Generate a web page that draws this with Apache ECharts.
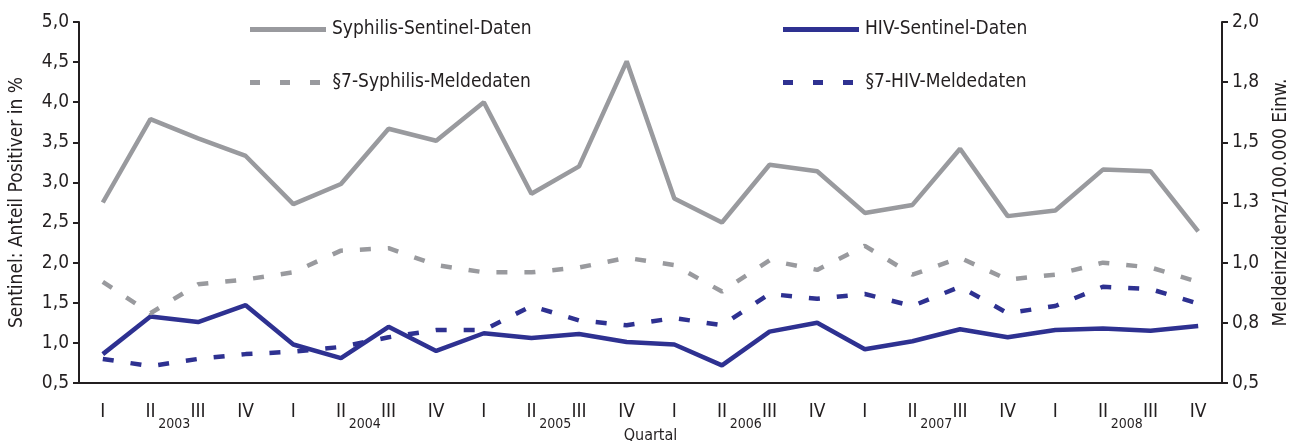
<!DOCTYPE html>
<html>
<head>
<meta charset="utf-8">
<script src="https://cdn.jsdelivr.net/npm/echarts@6/dist/echarts.min.js"></script>
<style>
html,body{margin:0;padding:0;background:#fff;}
#c{width:1298px;height:441px;}
</style>
</head>
<body>
<div id="c"></div>
<script>
var quarters = ['I','II','III','IV','I','II','III','IV','I','II','III','IV','I','II','III','IV','I','II','III','IV','I','II','III','IV'];
var years = ['2003','2004','2005','2006','2007','2008'];
// left axis (Sentinel: Anteil Positiver in %)
var syphilisSentinel = [2.75,3.79,3.55,3.33, 2.73,2.98,3.67,3.52, 4.00,2.86,3.20,4.51, 2.80,2.50,3.22,3.14, 2.62,2.72,3.42,2.58, 2.65,3.16,3.14,2.39];
var hivSentinel = [0.86,1.33,1.26,1.47, 0.98,0.81,1.20,0.90, 1.12,1.06,1.11,1.01, 0.98,0.72,1.14,1.25, 0.92,1.02,1.17,1.07, 1.16,1.18,1.15,1.21];
// right axis (Meldeinzidenz/100.000 Einw.)
var syphilisMelde = [0.92,0.79,0.91,0.93, 0.96,1.05,1.06,0.99, 0.96,0.96,0.98,1.02, 0.99,0.88,1.01,0.97, 1.07,0.95,1.02,0.93, 0.95,1.00,0.98,0.92];
var hivMelde = [0.60,0.57,0.60,0.62, 0.63,0.65,0.69,0.72, 0.72,0.82,0.76,0.74, 0.77,0.74,0.87,0.85, 0.87,0.82,0.90,0.79, 0.82,0.90,0.89,0.83];

var FONT = "'Liberation Sans Narrow','DejaVu Sans Condensed','Roboto',sans-serif";
var GRAY = '#999a9e', BLUE = '#2e3191', TXT = '#231f20';
function de(v){ return v.toFixed(1).replace('.', ','); }

var SOLID_ICON = 'path://M0,0H76V5H0Z';
var DASH_ICON = 'path://M0,0H10V5H0ZM30,0H40V5H30ZM60,0H70V5H60Z';

var chart = echarts.init(document.getElementById('c'));
function leg(name, left, top, dashed){
  return {data:[{name:name, icon: dashed ? DASH_ICON : SOLID_ICON}], left:left, top:top,
    itemWidth: dashed ? 71 : 76, itemHeight:5, itemGap:0,
    textStyle:{fontFamily:FONT, fontSize:19, color:TXT, padding:[0,0,0, dashed ? 7 : 1]}, selectedMode:false};
}
chart.setOption({
  animation:false,
  legend:[leg('Syphilis-Sentinel-Daten',245,15,false), leg('HIV-Sentinel-Daten',778,15,false),
          leg('§7-Syphilis-Meldedaten',245,68,true), leg('§7-HIV-Meldedaten',778,68,true)],
  grid:{left:79, right:76, top:22, bottom:58, containLabel:false, outerBoundsMode:'none'},
  xAxis:[{
    type:'category', data:quarters, boundaryGap:true,
    name:'Quartal', nameLocation:'middle', nameGap:45,
    nameTextStyle:{fontFamily:FONT, fontSize:16, color:TXT},
    axisLine:{lineStyle:{color:TXT, width:2}},
    axisTick:{interval:0, length:6, lineStyle:{color:TXT, width:2}},
    axisLabel:{interval:0, margin:20, fontFamily:FONT, fontSize:19, color:TXT}
  },{
    type:'category', data:years, boundaryGap:true, position:'bottom',
    axisLine:{show:false}, axisTick:{show:false},
    axisLabel:{interval:0, margin:34, fontFamily:FONT, fontSize:14, color:TXT}
  }],
  yAxis:[{
    type:'value', min:0.5, max:5, interval:0.5, position:'left',
    name:'Sentinel: Anteil Positiver in %', nameLocation:'middle', nameGap:52, nameRotate:90,
    nameTextStyle:{fontFamily:FONT, fontSize:19, color:TXT},
    splitLine:{show:false},
    axisLine:{show:true, lineStyle:{color:TXT, width:2}},
    axisTick:{show:true, length:6, lineStyle:{color:TXT, width:2}},
    axisLabel:{formatter:de, margin:10, fontFamily:FONT, fontSize:19, color:TXT}
  },{
    type:'value', min:0.5, max:2, interval:0.25, position:'right',
    name:'Meldeinzidenz/100.000 Einw.', nameLocation:'middle', nameGap:50, nameRotate:90,
    nameTextStyle:{fontFamily:FONT, fontSize:19, color:TXT},
    splitLine:{show:false},
    axisLine:{show:true, lineStyle:{color:TXT, width:2}},
    axisTick:{show:true, length:6, lineStyle:{color:TXT, width:2}},
    axisLabel:{formatter:de, margin:10, fontFamily:FONT, fontSize:19, color:TXT}
  }],
  series:[
    {name:'Syphilis-Sentinel-Daten', type:'line', yAxisIndex:0, data:syphilisSentinel, symbol:'none',
     lineStyle:{color:GRAY, width:4.5}, itemStyle:{color:GRAY}},
    {name:'HIV-Sentinel-Daten', type:'line', yAxisIndex:0, data:hivSentinel, symbol:'none',
     lineStyle:{color:BLUE, width:4.5}, itemStyle:{color:BLUE}},
    {name:'§7-Syphilis-Meldedaten', type:'line', yAxisIndex:1, data:syphilisMelde, symbol:'none',
     lineStyle:{color:GRAY, width:4.5, type:[11,17]}, itemStyle:{color:GRAY}},
    {name:'§7-HIV-Meldedaten', type:'line', yAxisIndex:1, data:hivMelde, symbol:'none',
     lineStyle:{color:BLUE, width:4.5, type:[11,17]}, itemStyle:{color:BLUE}}
  ]
});
</script>
</body>
</html>
